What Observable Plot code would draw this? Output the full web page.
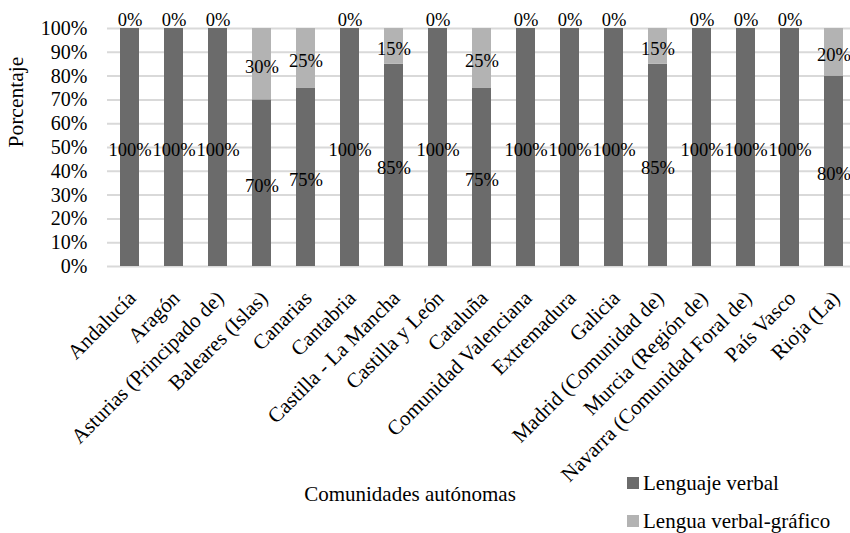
<!DOCTYPE html>
<html>
<head>
<meta charset="utf-8">
<script src="https://cdn.jsdelivr.net/npm/d3@7"></script>
<script src="https://cdn.jsdelivr.net/npm/@observablehq/plot@0.6"></script>
<style>
  html, body { margin: 0; padding: 0; background: #fff; }
  #chart { position: relative; width: 850px; height: 533px; overflow: hidden; font-family: "Liberation Serif", "Times New Roman", serif; }
  #legend { position: absolute; left: 627px; top: 470px; font-size: 21px; color: #000; }
  #legend .row { display: flex; align-items: center; height: 26px; margin-bottom: 12px; white-space: nowrap; }
  #legend .sw { width: 12px; height: 12px; margin-right: 4px; }
</style>
</head>
<body>
<div id="chart"></div>
<script>
// Comunidades autónomas and the share of each type of language (%)
const categories = [
  "Andalucía", "Aragón", "Asturias (Principado de)", "Baleares (Islas)", "Canarias",
  "Cantabria", "Castilla - La Mancha", "Castilla y León", "Cataluña", "Comunidad Valenciana",
  "Extremadura", "Galicia", "Madrid (Comunidad de)", "Murcia (Región de)",
  "Navarra (Comunidad Foral de)", "País Vasco", "Rioja (La)"
];
const seriesNames = ["Lenguaje verbal", "Lengua verbal-gráfico"];
const verbal  = [100, 100, 100, 70, 75, 100, 85, 100, 75, 100, 100, 100, 85, 100, 100, 100, 80];
const grafico = [0, 0, 0, 30, 25, 0, 15, 0, 25, 0, 0, 0, 15, 0, 0, 0, 20];
const yTicks = [0, 10, 20, 30, 40, 50, 60, 70, 80, 90, 100];
const colors = ["#6b6b6b", "#b3b3b3"];

// Long table: verbal rows first so they sit at the bottom of each stack
const rows = [
  ...categories.map((c, i) => ({cat: c, series: seriesNames[0], value: verbal[i]})),
  ...categories.map((c, i) => ({cat: c, series: seriesNames[1], value: grafico[i]}))
];

const stack = (opts) => Plot.stackY({x: "cat", y: "value", z: "series", ...opts});

const plot = Plot.plot({
  width: 850,
  height: 533,
  marginLeft: 107,
  marginRight: 0,
  marginTop: 28,
  marginBottom: 267,
  style: {fontFamily: "'Liberation Serif', 'Times New Roman', serif", fontSize: "20px", color: "#000", background: "transparent"},
  x: {type: "band", domain: categories, range: [107, 855], paddingInner: 0.57, paddingOuter: 0.285, axis: null},
  y: {domain: [0, 100], axis: null},
  color: {domain: seriesNames, range: colors},
  marks: [
    Plot.ruleY(yTicks, {y: d => d, stroke: "#d9d9d9", strokeWidth: 2}),
    Plot.axisY(yTicks, {tickSize: 0, tickPadding: 20, tickFormat: d => d + "%", fontSize: 20, label: null}),
    Plot.barY(rows, stack({fill: "series"})),
    // segment values, centred inside each segment
    Plot.text(rows, stack({text: d => d.value > 0 ? d.value + "%" : null, fontSize: 18.5, dy: 3, fill: "#000"})),
    // empty segments are labelled just above the bar top
    Plot.text(rows, stack({text: d => d.value === 0 ? d.value + "%" : null, fontSize: 18.5, dy: -8, fill: "#000"})),
    // category names, rotated below the baseline
    Plot.text(categories, {x: d => d, frameAnchor: "bottom", rotate: -45, textAnchor: "end", lineAnchor: "bottom", dx: 7, dy: 33, fontSize: 21, fill: "#000"}),
    // axis titles
    Plot.text(["Porcentaje"], {frameAnchor: "left", rotate: -90, dx: -91, fontSize: 21.5, fill: "#000"}),
    Plot.text(["Comunidades autónomas"], {frameAnchor: "bottom", dx: -69, dy: 234, fontSize: 21, fill: "#000"})
  ]
});

const chart = document.getElementById("chart");
chart.appendChild(plot);

// Legend, stacked vertically at the lower right
const color = plot.scale("color");
const legend = document.createElement("div");
legend.id = "legend";
seriesNames.forEach((name, i) => {
  const row = document.createElement("div");
  row.className = "row";
  const sw = document.createElement("span");
  sw.className = "sw";
  sw.style.background = color.range[i];
  const label = document.createElement("span");
  label.textContent = name;
  row.appendChild(sw);
  row.appendChild(label);
  legend.appendChild(row);
});
chart.appendChild(legend);
</script>
</body>
</html>
